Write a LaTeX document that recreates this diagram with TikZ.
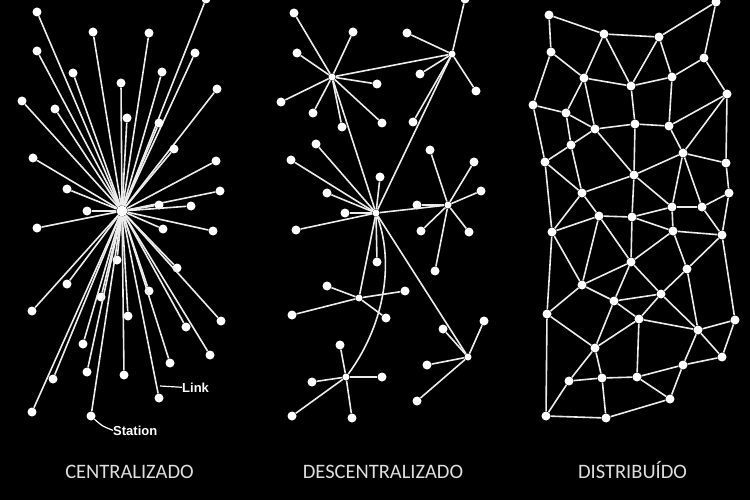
\documentclass[tikz,border=0pt]{standalone}
\usepackage{fontspec}
\setmainfont{Carlito}
\newfontfamily\labfont{Liberation Sans}
\definecolor{ln}{RGB}{236,236,236}
\definecolor{tx}{RGB}{222,222,222}
\begin{document}
\begin{tikzpicture}[x=1pt,y=-1pt,
  dot/.style={circle,fill=white,inner sep=0pt,minimum size=9pt},
  hubdot/.style={circle,fill=white,inner sep=0pt,minimum size=7pt},
  link/.style={draw=ln,line width=1.6pt},
  leader/.style={draw=white,line width=1.2pt},
  caption/.style={text=tx,font=\fontsize{20.5}{24}\selectfont,anchor=base,inner sep=0pt},
  tag/.style={text=white,font=\labfont\bfseries\fontsize{13}{15}\selectfont,anchor=base west,inner sep=0pt}]
\fill[black] (0,0) rectangle (750,500);
\useasboundingbox (0,0) rectangle (750,500);

% ---------------- centralized ----------------
\node[dot,minimum size=11pt] (c0) at (122,211) {};
\foreach \x/\y [count=\i] in {37/12,93/32,149/33,206/-1,37/51,195/53,73/73,162/72,121/83,217/89,
  22/101,55/109,127/118,159/123,174/149,33/158,216/161,67/189,220/191,159/205,191/206,87/211,
  37/228,163/229,213/231,117/260,177/268,67/284,101/297,149/291,32/311,221/321,128/316,186/327,
  83/344,210/355,170/363,87/372,124/375,53/379,159/398,32/412,91/416} {
  \node[dot] (c\i) at (\x,\y) {};
  \draw[link] (c0) -- (c\i);
}
\node[tag] (lk) at (182,392) {Link};
\coordinate (lkA) at (160,386);
\draw[leader] (lkA) -- (lk.west);
\node[tag] (st) at (113,435) {Station};
\draw[leader] (c43) .. controls (102,426) .. (st.west);

% ---------------- decentralized ----------------
\node[hubdot] (dA) at (332,77) {};
\node[hubdot] (dB) at (452,54) {};
\node[hubdot] (dC) at (376,213) {};
\node[hubdot] (dD) at (448,205) {};
\node[hubdot] (dE) at (359,298) {};
\node[hubdot] (dF) at (468,357) {};
\node[hubdot] (dG) at (346,377) {};
\foreach \h/\list in {
  A/{294/13,353/32,297/53,377/84,281/102,313/113,342/127,382/123},
  B/{465/-1,407/33,420/74,476/91,413/122},
  C/{316/144,291/160,380/177,327/193,345/213,296/230,377/262},
  D/{430/150,474/162,481/191,417/205,421/231,469/232,435/271},
  E/{327/286,405/291,292/315,386/318},
  F/{443/329,484/321,427/365,417/401},
  G/{340/345,312/382,382/377,292/416,352/418}} {
  \foreach \x/\y [count=\i] in \list {
    \node[dot] (d\h\i) at (\x,\y) {};
    \draw[link] (d\h) -- (d\h\i);
  }
}
\draw[link] (dA) -- (dB);
\draw[link] (dA) -- (dC);
\draw[link] (dB) -- (dC);
\draw[link] (dC) -- (dD);
\draw[link] (dC) -- (dE);
\draw[link] (dC) -- (dF);
\draw[link] (dC) .. controls (396,268) and (381,330) .. (dG);

% ---------------- distributed ----------------
\foreach \x/\y [count=\i] in {549/15,604/34,659/37,716/2,551/52,704/58,584/78,631/86,672/77,533/105,
  566/113,727/94,595/129,635/124,669/126,571/145,545/162,683/153,726/163,634/175,
  582/193,729/193,672/207,702/207,599/216,632/217,552/232,673/231,722/235,631/262,
  687/269,582/285,547/314,614/301,661/294,639/319,735/320,698/330,595/348,722/357,
  683/365,569/381,602/378,637/377,670/399,546/416,606/418} {
  \node[dot] (r\i) at (\x,\y) {};
}
\foreach \a/\b in {1/2,1/5,2/3,2/7,2/8,3/8,3/9,3/4,4/6,5/7,5/10,6/9,6/12,7/8,8/9,7/11,7/13,
  10/11,11/13,11/16,13/16,8/14,13/14,14/15,9/15,12/15,12/19,12/18,15/18,14/20,13/20,10/17,16/17,16/21,
  18/19,18/20,18/23,18/24,19/22,20/21,20/26,20/23,17/21,17/27,21/25,21/27,27/25,25/32,25/26,25/30,
  26/23,26/28,26/30,23/24,23/28,24/22,24/29,28/29,29/31,22/29,28/30,28/31,30/32,27/32,
  32/33,32/34,27/33,30/34,30/35,31/35,31/38,29/37,
  34/35,34/36,34/39,35/36,35/38,36/39,36/38,36/44,37/38,37/40,38/40,38/41,41/40,41/45,41/44,
  44/45,44/43,43/42,43/39,43/47,39/42,39/33,33/46,42/46,46/47,47/45} {
  \draw[link] (r\a) -- (r\b);
}

% ---------------- captions ----------------
\node[caption] (t1) at (129.5,478) {CENTRALIZADO};
\node[caption] (t2) at (383,478) {DESCENTRALIZADO};
\node[caption] (t3) at (632.5,478) {DISTRIBUÍDO};
\end{tikzpicture}
\end{document}
